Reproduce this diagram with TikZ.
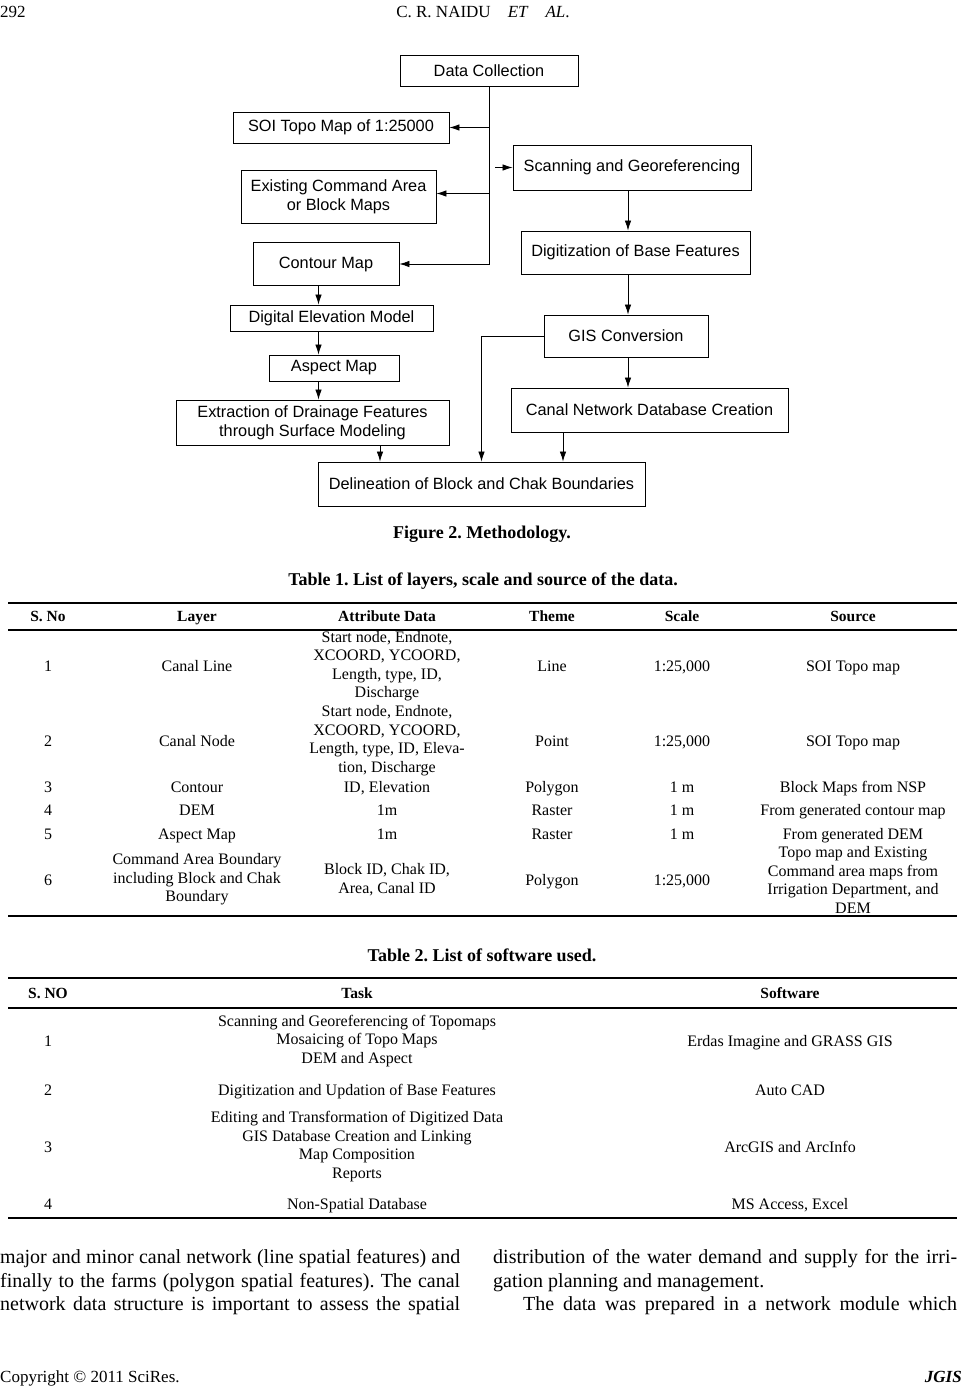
\documentclass[tikz,border=0pt]{standalone}
\usepackage{fontspec}
\setmainfont{Liberation Serif}
\newfontfamily\dsans{Liberation Sans}
\usetikzlibrary{arrows.meta}
\frenchspacing
\begin{document}
\frenchspacing
\begin{tikzpicture}[x=1pt,y=-1pt,
  box/.style={draw, line width=0.9pt, inner sep=0pt, align=center, font=\dsans\fontsize{16.3}{19}\selectfont},
  arr/.style={line width=0.8pt, -{Latex[length=10pt,width=6.5pt]}},
  cell/.style={inner sep=0pt, anchor=base, font=\fontsize{16}{18.5}\selectfont},
  mcell/.style={inner sep=0pt, anchor=center, align=center, font=\fontsize{16}{18.5}\selectfont},
  hcell/.style={inner sep=0pt, anchor=base, font=\bfseries\fontsize{15.5}{18}\selectfont},
  capt/.style={inner sep=0pt, anchor=base, font=\bfseries\fontsize{18}{21}\selectfont},
  body/.style={inner sep=0pt, anchor=base west, font=\fontsize{20}{23.5}\selectfont},
  rule/.style={line width=1.5pt},
  mrule/.style={line width=1.1pt}]
\useasboundingbox (0,0) rectangle (965,1386);
\fill[white] (0,0) rectangle (965,1386);

% running head
\node[inner sep=0pt, anchor=base west, font=\fontsize{17}{20}\selectfont] (pg) at (0,18) {292};
\node[inner sep=0pt, anchor=base, font=\fontsize{17}{20}\selectfont] (rh) at (483,18) {C. R. NAIDU\quad\textit{ET}\quad\textit{AL}.};

% flowchart
\node[box, minimum width=178pt, minimum height=31pt] (dc) at (489,70.5) {Data Collection};
\node[box, minimum width=216pt, minimum height=31pt] (soi) at (341,127.5) {SOI Topo Map of 1:25000};
\node[box, minimum width=238pt, minimum height=45pt] (scan) at (632,167.5) {Scanning and Georeferencing};
\node[box, minimum width=195pt, minimum height=53pt] (exist) at (338.5,196.5) {Existing Command Area\\or Block Maps};
\node[box, minimum width=229pt, minimum height=43pt] (digit) at (635.5,252.5) {Digitization of Base Features};
\node[box, minimum width=146pt, minimum height=43pt] (cont) at (326,264) {Contour Map};
\node[box, minimum width=203pt, minimum height=26pt] (dem) at (331.5,318) {Digital Elevation Model};
\node[box, minimum width=164pt, minimum height=42pt] (gis) at (626,336) {GIS Conversion};
\node[box, minimum width=130pt, minimum height=26pt] (asp) at (334,368) {Aspect Map};
\node[box, minimum width=277pt, minimum height=44pt] (canal) at (649.5,410) {Canal Network Database Creation};
\node[box, minimum width=273pt, minimum height=45pt] (extr) at (312.5,422.5) {Extraction of Drainage Features\\through Surface Modeling};
\node[box, minimum width=327pt, minimum height=44pt] (delin) at (481.5,484) {Delineation of Block and Chak Boundaries};

\coordinate (colR) at (628,0);
\coordinate (colL) at (318.5,0);
\coordinate (c2) at (563,0);
\coordinate (c3) at (380,0);
\coordinate (exE) at ([yshift=3pt]exist.east);
\coordinate (scS) at (495,0);

\draw[arr] (dc.south) |- (cont.east);
\draw[arr] (dc.south |- soi.east) -- (soi.east);
\draw[arr] (dc.south |- exE) -- (exE);
\draw[arr] (scS |- scan.west) -- (scan.west);
\draw[arr] (scan.south -| colR) -- (digit.north -| colR);
\draw[arr] (digit.south -| colR) -- (gis.north -| colR);
\draw[arr] (gis.south -| colR) -- (canal.north -| colR);
\draw[arr] (cont.south -| colL) -- (dem.north -| colL);
\draw[arr] (dem.south -| colL) -- (asp.north -| colL);
\draw[arr] (asp.south -| colL) -- (extr.north -| colL);
\draw[arr] (gis.west) -| (delin.north);
\draw[arr] (canal.south -| c2) -- (delin.north -| c2);
\draw[arr] (extr.south -| c3) -- (delin.north -| c3);

\node[capt] (fcap) at (482,538) {Figure 2. Methodology.};

% Table 1
\node[capt] (t1cap) at (483,585) {Table 1. List of layers, scale and source of the data.};
\coordinate (t1a) at (8,603); \coordinate (t1b) at (957,603);
\coordinate (t1c) at (8,630); \coordinate (t1d) at (957,630);
\coordinate (t1e) at (8,916); \coordinate (t1f) at (957,916);
\draw[rule] (t1a) -- (t1b);
\draw[mrule] (t1c) -- (t1d);
\draw[rule] (t1e) -- (t1f);

\node[hcell] (h1) at (48,621.5) {S. No};
\node[hcell] (h2) at (197,621.5) {Layer};
\node[hcell] (h3) at (387,621.5) {Attribute Data};
\node[hcell] (h4) at (552,621.5) {Theme};
\node[hcell] (h5) at (682,621.5) {Scale};
\node[hcell] (h6) at (853,621.5) {Source};

\node[cell] (r1a) at (48,671.5) {1};
\node[cell] (r1b) at (197,671.5) {Canal Line};
\node[mcell] (r1c) at (387,666) {Start node, Endnote,\\XCOORD, YCOORD,\\Length, type, ID,\\Discharge};
\node[cell] (r1d) at (552,671.5) {Line};
\node[cell] (r1e) at (682,671.5) {1:25,000};
\node[cell] (r1f) at (853,671.5) {SOI Topo map};

\node[cell] (r2a) at (48,746) {2};
\node[cell] (r2b) at (197,746) {Canal Node};
\node[mcell] (r2c) at (387,740.5) {Start node, Endnote,\\XCOORD, YCOORD,\\Length, type, ID, Eleva-\\tion, Discharge};
\node[cell] (r2d) at (552,746) {Point};
\node[cell] (r2e) at (682,746) {1:25,000};
\node[cell] (r2f) at (853,746) {SOI Topo map};

\node[cell] (r3a) at (48,792.5) {3};
\node[cell] (r3b) at (197,792.5) {Contour};
\node[cell] (r3c) at (387,792.5) {ID, Elevation};
\node[cell] (r3d) at (552,792.5) {Polygon};
\node[cell] (r3e) at (682,792.5) {1 m};
\node[cell] (r3f) at (853,792.5) {Block Maps from NSP};

\node[cell] (r4a) at (48,815.5) {4};
\node[cell] (r4b) at (197,815.5) {DEM};
\node[cell] (r4c) at (387,815.5) {1m};
\node[cell] (r4d) at (552,815.5) {Raster};
\node[cell] (r4e) at (682,815.5) {1 m};
\node[cell] (r4f) at (853,815.5) {From generated contour map};

\node[cell] (r5a) at (48,839.5) {5};
\node[cell] (r5b) at (197,839.5) {Aspect Map};
\node[cell] (r5c) at (387,839.5) {1m};
\node[cell] (r5d) at (552,839.5) {Raster};
\node[cell] (r5e) at (682,839.5) {1 m};
\node[cell] (r5f) at (853,839.5) {From generated DEM};

\node[cell] (r6a) at (48,885.5) {6};
\node[mcell] (r6b) at (197,879.5) {Command Area Boundary\\including Block and Chak\\Boundary};
\node[mcell] (r6c) at (387,879.5) {Block ID, Chak ID,\\Area, Canal ID};
\node[cell] (r6d) at (552,885.5) {Polygon};
\node[cell] (r6e) at (682,885.5) {1:25,000};
\node[mcell] (r6f) at (853,880) {Topo map and Existing\\Command area maps from\\Irrigation Department, and\\DEM};

% Table 2
\node[capt] (t2cap) at (482,961) {Table 2. List of software used.};
\coordinate (t2a) at (8,978); \coordinate (t2b) at (957,978);
\coordinate (t2c) at (8,1008); \coordinate (t2d) at (957,1008);
\coordinate (t2e) at (8,1218); \coordinate (t2f) at (957,1218);
\draw[rule] (t2a) -- (t2b);
\draw[mrule] (t2c) -- (t2d);
\draw[rule] (t2e) -- (t2f);

\node[hcell] (g1) at (48,998.5) {S. NO};
\node[hcell] (g2) at (357,998.5) {Task};
\node[hcell] (g3) at (790,998.5) {Software};

\node[cell] (s1a) at (48,1046.5) {1};
\node[mcell] (s1b) at (357,1041) {Scanning and Georeferencing of Topomaps\\Mosaicing of Topo Maps\\DEM and Aspect};
\node[cell] (s1c) at (790,1046.5) {Erdas Imagine and GRASS GIS};

\node[cell] (s2a) at (48,1095.5) {2};
\node[cell] (s2b) at (357,1095.5) {Digitization and Updation of Base Features};
\node[cell] (s2c) at (790,1095.5) {Auto CAD};

\node[cell] (s3a) at (48,1152) {3};
\node[mcell] (s3b) at (357,1146.5) {Editing and Transformation of Digitized Data\\GIS Database Creation and Linking\\Map Composition\\Reports};
\node[cell] (s3c) at (790,1152) {ArcGIS and ArcInfo};

\node[cell] (s4a) at (48,1209.5) {4};
\node[cell] (s4b) at (357,1209.5) {Non-Spatial Database};
\node[cell] (s4c) at (790,1209.5) {MS Access, Excel};

% body text
\node[body] (L1) at (0,1263) {\makebox[460pt][s]{major and minor canal network (line spatial features) and}};
\node[body] (L2) at (0,1287) {\makebox[460pt][s]{finally to the farms (polygon spatial features). The canal}};
\node[body] (L3) at (0,1310.5) {\makebox[460pt][s]{network data structure is important to assess the spatial}};
\node[body] (R1) at (493,1263) {\makebox[464pt][s]{distribution of the water demand and supply for the irri-}};
\node[body] (R2) at (493,1287) {gation planning and management.};
\node[body] (R3) at (523,1310.5) {\makebox[434pt][s]{The data was prepared in a network module which}};

% footer
\node[inner sep=0pt, anchor=base west, font=\fontsize{17}{20}\selectfont] (cp) at (0,1382) {Copyright \textcopyright\ 2011 SciRes.};
\node[inner sep=0pt, anchor=base east, font=\bfseries\itshape\fontsize{17}{20}\selectfont] (jg) at (962,1382) {JGIS};
\end{tikzpicture}
\end{document}
